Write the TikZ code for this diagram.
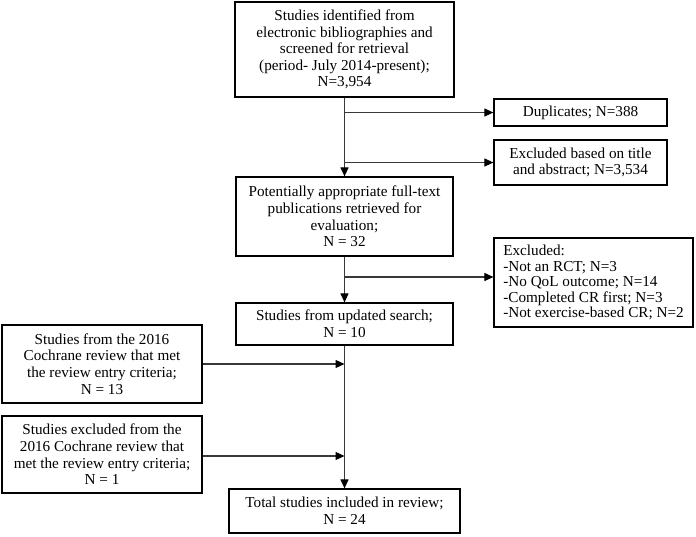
\documentclass[tikz,border=0pt]{standalone}
\usepackage{fontspec}
\setmainfont{Liberation Serif}
\usetikzlibrary{arrows.meta,calc}
\definecolor{linecol}{HTML}{383838}
\tikzset{
  box/.style={draw=black, line width=1.2pt, fill=white, inner sep=0pt, align=center,
    font=\fontsize{15.2}{16.6}\selectfont},
  listbox/.style={draw=black, line width=1.2pt, fill=white, inner sep=0pt, align=left,
    font=\fontsize{15.2}{15.6}\selectfont},
  conn/.style={draw=linecol, line width=1.1pt, -{Triangle[length=9pt,width=8pt,fill=black,color=black]}}
}
\begin{document}
\begin{tikzpicture}[x=1pt,y=-1pt]
\path[use as bounding box, fill=white] (0,0) rectangle (696,536);
\node[box, minimum width=219pt, minimum height=95pt] (b1) at (344.5,49.5)
  {Studies identified from\\electronic bibliographies and\\screened for retrieval\\(period- July 2014-present);\\N=3,954};
\node[box, minimum width=173pt, minimum height=27pt] (dup) at (580.5,112.5)
  {Duplicates; N=388};
\node[box, minimum width=173pt, minimum height=45pt] (ex1) at (580.5,162.5)
  {Excluded based on title\\and abstract; N=3,534};
\node[box, minimum width=217pt, minimum height=79pt] (b2) at (344.5,216.5)
  {Potentially appropriate full-text\\publications retrieved for\\evaluation;\\N = 32};
\node[listbox, minimum width=199pt, minimum height=89pt] (ex2) at (593.5,282.5)
  {Excluded:\\-Not an RCT; N=3\\-No QoL outcome; N=14\\-Completed CR first; N=3\\-Not exercise-based CR; N=2};
\node[box, minimum width=217pt, minimum height=42pt] (b3) at (344.5,324)
  {Studies from updated search;\\N = 10};
\node[box, minimum width=200pt, minimum height=78pt] (ca) at (102,364)
  {Studies from the 2016\\Cochrane review that met\\the review entry criteria;\\N = 13};
\node[box, minimum width=200pt, minimum height=77pt] (cb) at (102,454.5)
  {Studies excluded from the\\2016 Cochrane review that\\met the review entry criteria;\\N = 1};
\node[box, minimum width=231pt, minimum height=44pt] (tot) at (344.5,511)
  {Total studies included in review;\\N = 24};
\coordinate (ex2in) at ($(ex2.west)+(0,-5.5)$);
\draw[conn] (b1.south) -- (b2.north);
\draw[conn] (b1.south |- dup.west) -- (dup.west);
\draw[conn] (b1.south |- ex1.west) -- (ex1.west);
\draw[conn] (b2.south) -- (b3.north);
\draw[conn] (b2.south |- ex2in) -- (ex2in);
\draw[conn] (b3.south) -- (tot.north);
\draw[conn] (ca.east) -- (ca.east -| b3.south);
\draw[conn] ($(cb.east)+(0,1.5)$) -- ($(cb.east -| b3.south)+(0,1.5)$);
\end{tikzpicture}
\end{document}
